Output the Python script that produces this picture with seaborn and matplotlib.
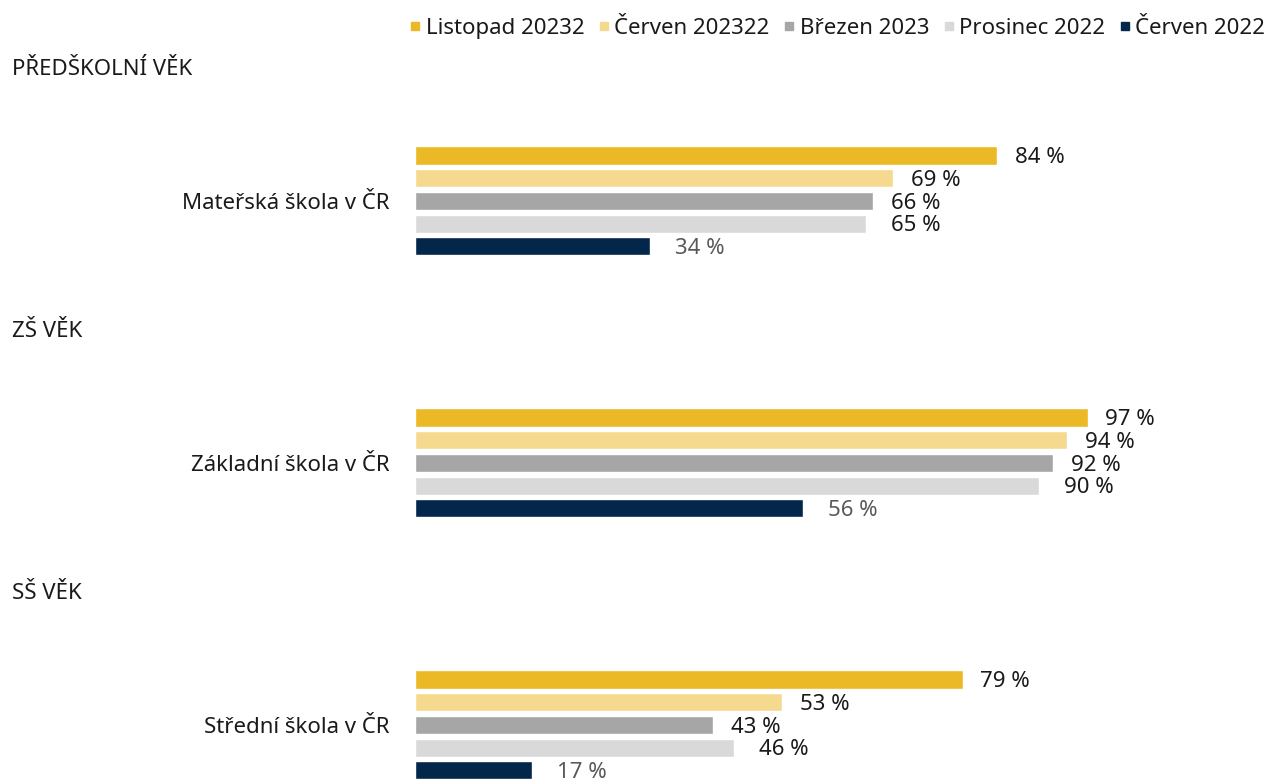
import matplotlib
matplotlib.use("Agg")
import matplotlib.pyplot as plt
import seaborn as sns
import pandas as pd
from matplotlib.lines import Line2D
from matplotlib.transforms import blended_transform_factory

categories = ["Mateřská škola v ČR", "Základní škola v ČR", "Střední škola v ČR"]
sections = ["PŘEDŠKOLNÍ VĚK", "ZŠ VĚK", "SŠ VĚK"]
series = ["Listopad 20232", "Červen 202322", "Březen 2023", "Prosinec 2022", "Červen 2022"]
listopad_2023 = [84, 97, 79]
cerven_2023 = [69, 94, 53]
brezen_2023 = [66, 92, 43]
prosinec_2022 = [65, 90, 46]
cerven_2022 = [34, 56, 17]
colors = ["#EBB925", "#F4D98F", "#A6A6A6", "#D9D9D9", "#03264B"]

values = [listopad_2023, cerven_2023, brezen_2023, prosinec_2022, cerven_2022]
rows = []
for s, vals in zip(series, values):
    for c, v in zip(categories, vals):
        rows.append({"category": c, "series": s, "value": v})
df = pd.DataFrame(rows)

sns.set_theme(style="white")
plt.rcParams['font.family'] = ['Noto Sans', 'DejaVu Sans']
FS = 16
TXT = "#1a1a1a"

W, H = 1273, 781
fig = plt.figure(figsize=(W / 100, H / 100), dpi=100)
ax = fig.add_axes([414.5 / W, 0, (W - 414.5) / W, 1])

sns.barplot(data=df, y="category", x="value", hue="series", order=categories,
            hue_order=series, palette=colors, orient="h", width=0.433, gap=0.2,
            ax=ax, legend=False, saturation=1, err_kws={"linewidth": 0})

ax.set_xlim(0, (W - 414.5) / 6.94)
ax.set_ylim(2.214, -0.767)
ax.set_xlabel("")
ax.set_ylabel("")
ax.set_xticks([])
for sp in ax.spines.values():
    sp.set_visible(False)
ax.tick_params(axis="y", length=0, pad=18, labelsize=FS, labelcolor=TXT)

pads = [12.5, 13, 13, 18, 18]
lcolors = [TXT, TXT, TXT, TXT, "#595959"]
for i, cont in enumerate(ax.containers):
    for bar, v in zip(cont.patches, cont.datavalues):
        ax.annotate(f"{int(v)} %", xy=(bar.get_x() + bar.get_width(), bar.get_y() + bar.get_height() / 2),
                    xytext=(pads[i], -1.5), textcoords="offset points",
                    ha="left", va="center", fontsize=FS, color=lcolors[i])

tr = blended_transform_factory(fig.transFigure, ax.transData)
for k, s in enumerate(sections):
    ax.text(12 / W, k - 0.5, s, transform=tr, fontsize=FS, color=TXT,
            ha="left", va="center")

handles = [Line2D([], [], marker="s", linestyle="", markersize=5.5, color=c) for c in colors]
fig.legend(handles, series, loc="upper right", bbox_to_anchor=(1 + 12 / W, 1 + 2 / H),
           ncol=5, frameon=False, handlelength=0.45, handletextpad=0.25,
           columnspacing=0.65, fontsize=FS, labelcolor=TXT)

fig.savefig("out.png", dpi=100)
